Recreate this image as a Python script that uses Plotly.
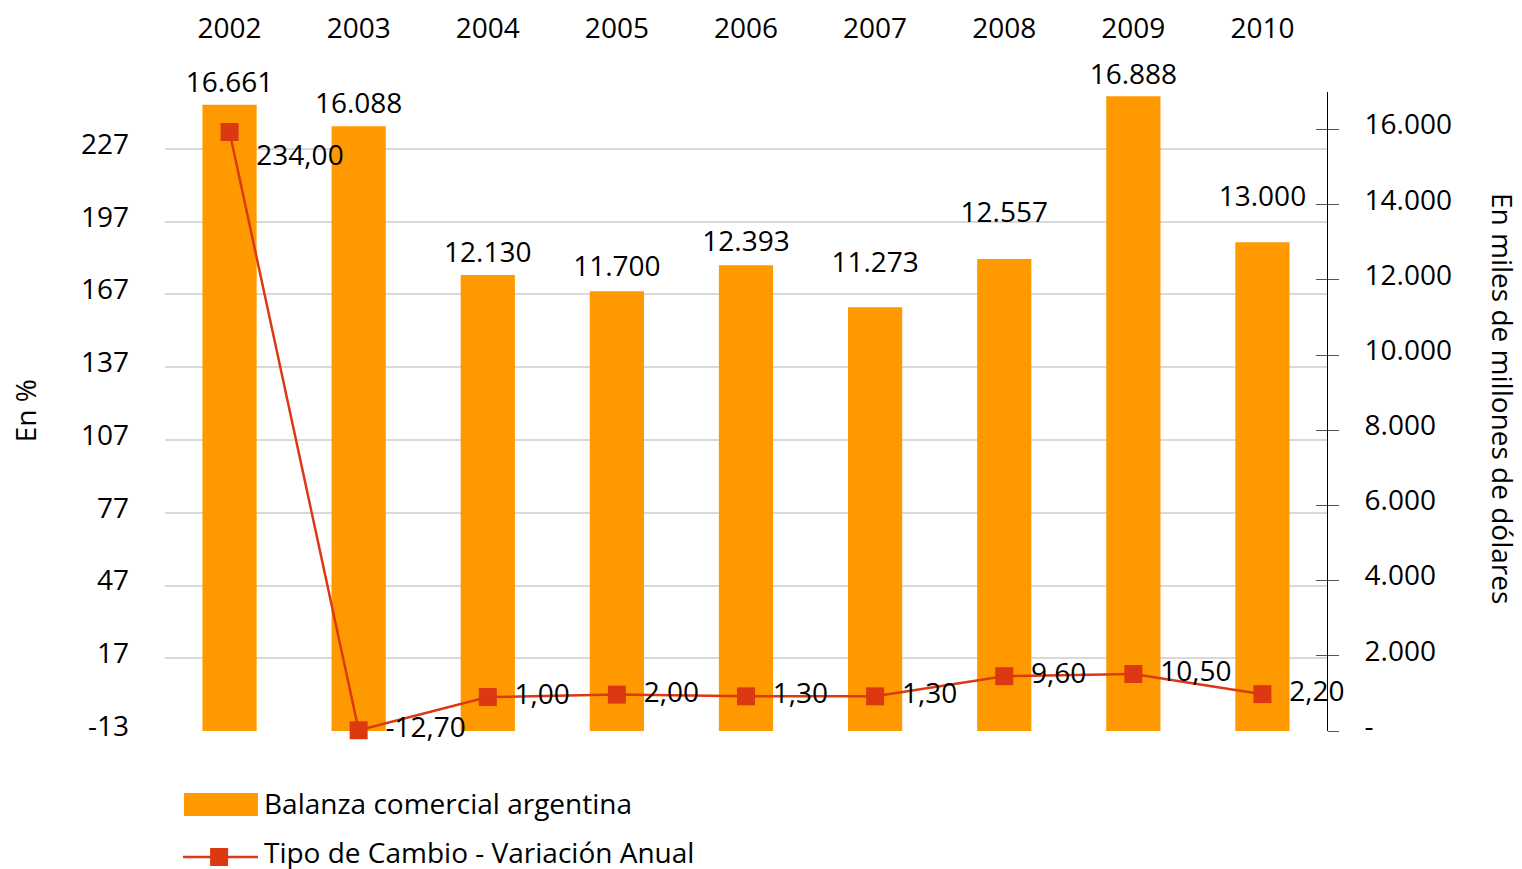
import plotly.graph_objects as go

years = ["2002", "2003", "2004", "2005", "2006", "2007", "2008", "2009", "2010"]
balanza = [16661, 16088, 12130, 11700, 12393, 11273, 12557, 16888, 13000]
tipo_cambio = [234.00, -12.70, 1.00, 2.00, 1.30, 1.30, 9.60, 10.50, 2.20]
tc_textpos = ["bottom right"] + ["middle right"] * 8

left_ticks = [-13, 17, 47, 77, 107, 137, 167, 197, 227]
left_ticktext = ["-13", "17", "47", "77", "107", "137", "167", "197", "227"]
right_ticks = [0, 2000, 4000, 6000, 8000, 10000, 12000, 14000, 16000]
right_ticktext = ["-", "2.000", "4.000", "6.000", "8.000", "10.000", "12.000", "14.000", "16.000"]

legend_names = ["Balanza comercial argentina", "Tipo de Cambio - Variación Anual"]

# styling: size of the invisible anchor under each bar label (controls how far above the bar it sits)
bar_label_pad = [8, 8, 8, 12, 10, 44, 46, 6, 45]

ORANGE = "#FF9900"
RED = "#DC3912"
FONT = "Open Sans"
FS = 28
NB = "\u00a0\u00a0"

fig = go.Figure()

# Bars on base axis (right side)
fig.add_trace(go.Bar(
    x=years, y=balanza, yaxis="y", name=legend_names[0],
    marker=dict(color=ORANGE, line=dict(width=0)), width=0.42,
    showlegend=False, hoverinfo="x+y",
))
# bar value labels
fig.add_trace(go.Scatter(
    x=years, y=balanza, yaxis="y", mode="markers+text",
    marker=dict(size=bar_label_pad, opacity=0),
    texttemplate="%{y:,}", textposition="top center",
    textfont=dict(family=FONT, size=FS, color="black"),
    cliponaxis=False, showlegend=False, hoverinfo="skip",
))
# Line on overlay axis (left side)
fig.add_trace(go.Scatter(
    x=years, y=tipo_cambio, yaxis="y2", mode="lines+markers+text",
    name=legend_names[1],
    line=dict(color=RED, width=2.5),
    marker=dict(symbol="square", size=18, color=RED),
    texttemplate=NB + "%{y:.2f}", textposition=tc_textpos,
    textfont=dict(family=FONT, size=FS, color="black"),
    cliponaxis=False, showlegend=False,
))
# dummy trace to carry the crossing-tick overlay axis
fig.add_trace(go.Scatter(x=[None], y=[None], yaxis="y3", showlegend=False, hoverinfo="skip"))

# manual legend (wide swatches as in the original)
shapes = [
    dict(type="rect", xref="paper", yref="paper", x0=0.0163, x1=0.0800, y0=-0.1330, y1=-0.0970,
         fillcolor=ORANGE, line=dict(width=0)),
    dict(type="line", xref="paper", yref="paper", x0=0.0155, x1=0.0800, y0=-0.1972, y1=-0.1972,
         line=dict(color=RED, width=2.5)),
    dict(type="rect", xref="paper", yref="paper", x0=0.0388, x1=0.0543, y0=-0.2113, y1=-0.1831,
         fillcolor=RED, line=dict(width=0)),
]

annotations = [
    dict(text="En %", xref="paper", yref="paper", x=-0.1205, y=0.502,
         xanchor="center", yanchor="middle",
         textangle=-90, showarrow=False, font=dict(size=FS, color="black")),
    dict(text="En miles de millones de dólares", xref="paper", yref="paper",
         x=1.1515, y=0.521, xanchor="center", yanchor="middle",
         textangle=90, showarrow=False, font=dict(size=FS, color="black")),
    dict(text=legend_names[0], xref="paper", yref="paper", x=0.0835, y=-0.1127,
         xanchor="left", yanchor="middle", showarrow=False,
         font=dict(size=FS, color="black")),
    dict(text=legend_names[1], xref="paper", yref="paper", x=0.0835, y=-0.190,
         xanchor="left", yanchor="middle", showarrow=False,
         font=dict(size=FS, color="black")),
]

fig.update_layout(
    width=1522, height=869,
    margin=dict(l=165, r=195, t=92, b=138, autoexpand=False),
    paper_bgcolor="white", plot_bgcolor="white",
    separators=",.",
    font=dict(family=FONT, size=FS, color="black"),
    showlegend=False,
    xaxis=dict(
        type="category", side="top", showline=False, ticks="", showgrid=False,
        range=[-0.5, 8.5], autorange=False,
        tickfont=dict(size=FS, color="black"), ticklabelstandoff=47, automargin=False,
    ),
    yaxis=dict(
        side="right", range=[0, 17000], tickvals=right_ticks, ticktext=right_ticktext,
        showgrid=False, zeroline=False, showline=True, linecolor="black", linewidth=1,
        ticks="outside", ticklen=11, tickcolor="#555555", tickwidth=1,
        ticklabelstandoff=20, ticklabelshift=-5, automargin=False,
        tickfont=dict(size=FS, color="black"),
    ),
    yaxis2=dict(
        overlaying="y", side="left", range=[-13, 250.5], tickvals=left_ticks, ticktext=left_ticktext,
        showgrid=True, gridcolor="#D9D9D9", gridwidth=1.5, zeroline=False,
        showline=False, ticks="", ticklabelstandoff=35, ticklabelshift=-5, automargin=False,
        tickfont=dict(size=FS, color="black"),
    ),
    yaxis3=dict(
        overlaying="y", side="right", range=[0, 17000], tickvals=right_ticks,
        showticklabels=False, showgrid=False, zeroline=False, showline=False,
        ticks="inside", ticklen=11, tickcolor="#555555", tickwidth=1, automargin=False,
    ),
    shapes=shapes,
    annotations=annotations,
)

fig.write_html("out.html", post_script="document.body.style.margin='0';",
               config={"displayModeBar": False})
